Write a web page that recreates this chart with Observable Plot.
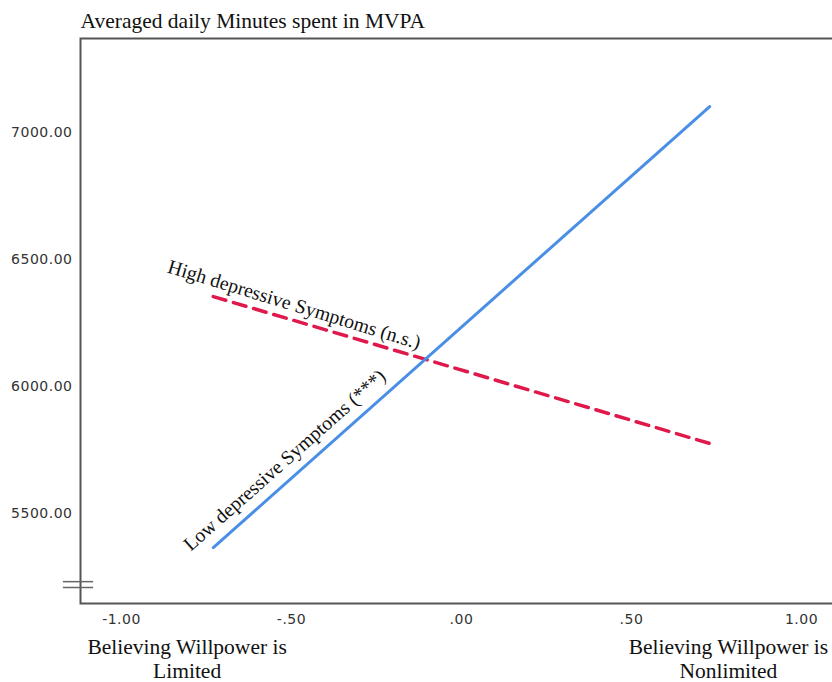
<!DOCTYPE html>
<html>
<head>
<meta charset="utf-8">
<script src="https://cdn.jsdelivr.net/npm/d3@7"></script>
<script src="https://cdn.jsdelivr.net/npm/@observablehq/plot@0.6"></script>
<style>
  html, body { margin: 0; padding: 0; background: #fff; }
  #chart svg { display: block; }
</style>
</head>
<body>
<div id="chart"></div>
<script>
// ---- data ----
const titleText = "Averaged daily Minutes spent in MVPA";
const xLevels = [-0.73, 0.73];
const lowSymptoms = [5366, 7102];
const highSymptoms = [6354, 5776];
const xTicks = [-1, -0.5, 0, 0.5, 1];
const yTicks = [5500, 6000, 6500, 7000];
const xEndLabels = ["Believing Willpower is\nLimited", "Believing Willpower is\nNonlimited"];
const xEndLabelPos = [-0.807, 0.785];
const lineLabels = [
  {text: "High depressive Symptoms (n.s.)", x: -0.492, y: 6322, rotate: 17},
  {text: "Low depressive Symptoms (***)", x: -0.52, y: 5710, rotate: -41.5}
];
const axisBreakY = [5232, 5209];
const axisBreakX = [-1.171, -1.082];

const lowRows = xLevels.map((x, i) => ({x, y: lowSymptoms[i]}));
const highRows = xLevels.map((x, i) => ({x, y: highSymptoms[i]}));
const endRows = xEndLabels.map((t, i) => ({text: t, x: xEndLabelPos[i]}));

const fmtX = d => d3.format(".2f")(d).replace("\u2212", "-").replace(/^(-?)0\./, "$1.");
const fmtY = d => d3.format(".2f")(d);

const serif = "'Liberation Serif', 'Times New Roman', serif";

const chart = Plot.plot({
  width: 832,
  height: 682,
  marginTop: 38,
  marginLeft: 80,
  marginRight: -4,
  marginBottom: 79,
  style: {fontFamily: "'DejaVu Sans', sans-serif", fontSize: "14px", color: "#333", background: "#fff", letterSpacing: "0.5px"},
  x: {domain: [-1.1206, 1.103], ticks: xTicks, tickFormat: fmtX, tickSize: 0, tickPadding: 11, label: null},
  y: {domain: [5146, 7370], ticks: yTicks, tickFormat: fmtY, tickSize: 0, tickPadding: 8, label: null},
  marks: [
    Plot.frame({stroke: "#555", strokeWidth: 2}),
    Plot.ruleY(axisBreakY, {y: d => d, x1: axisBreakX[0], x2: axisBreakX[1], stroke: "#666", strokeWidth: 1.5}),
    Plot.line(highRows, {x: "x", y: "y", stroke: "#e0194b", strokeWidth: 3.5, strokeDasharray: "13,8"}),
    Plot.line(lowRows, {x: "x", y: "y", stroke: "#4a8fe6", strokeWidth: 3, strokeLinecap: "round"}),
    Plot.text(lineLabels, {x: "x", y: "y", text: "text", rotate: "rotate", fontFamily: serif, fontSize: 19.8, fill: "#111", textAnchor: "middle", lineAnchor: "middle"}),
    Plot.text([titleText], {frameAnchor: "top-left", dy: -17, textAnchor: "start", lineAnchor: "middle", fontFamily: serif, fontSize: 21.5, fill: "#111"}),
    Plot.text(endRows, {x: "x", frameAnchor: "bottom", text: "text", dy: 33, textAnchor: "middle", lineAnchor: "top", lineHeight: 1.14, fontFamily: serif, fontSize: 21.5, fill: "#111"})
  ]
});
chart.querySelectorAll("g[font-family], text[font-family]").forEach(g => {
  if (g.getAttribute("font-family").includes("Serif")) g.style.letterSpacing = "0px";
});
document.getElementById("chart").appendChild(chart);
</script>
</body>
</html>
